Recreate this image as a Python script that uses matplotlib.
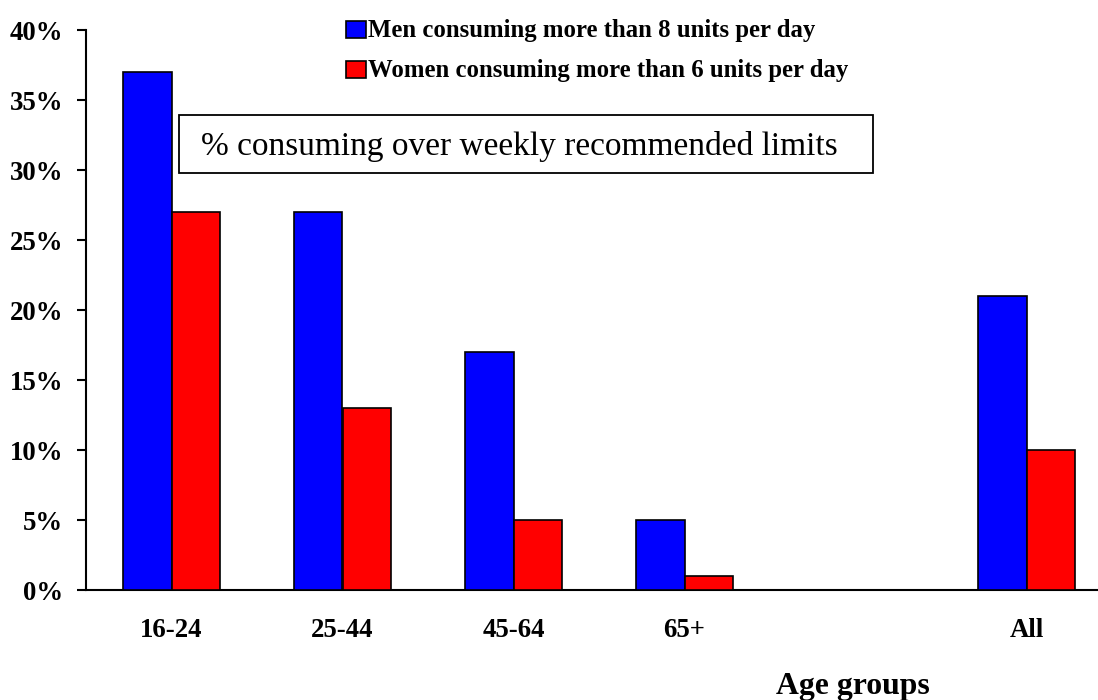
import matplotlib
matplotlib.use("Agg")
import matplotlib.pyplot as plt
from matplotlib.patches import Rectangle
from matplotlib.ticker import FuncFormatter

# Share of adults drinking over the daily guideline, by age band
age_groups = ["16-24", "25-44", "45-64", "65+", "", "All"]
men_pct = [37, 27, 17, 5, None, 21]
women_pct = [27, 13, 5, 1, None, 10]
men_label = "Men consuming more than 8 units per day"
women_label = "Women consuming more than 6 units per day"
y_ticks = [0, 5, 10, 15, 20, 25, 30, 35, 40]

W, H = 1098, 700
fig = plt.figure(figsize=(W / 100, H / 100), dpi=100)
fig.patch.set_facecolor("white")

def px(x0, y0, x1, y1):
    """Pixel box (top-left origin) -> figure-fraction rectangle."""
    return [x0 / W, 1 - y1 / H, (x1 - x0) / W, (y1 - y0) / H]

ax = fig.add_axes(px(86, 30, 86 + 6 * 171, 590))

serif = "Liberation Serif"
bar_w = 0.284
xs = range(len(age_groups))
for i in xs:
    if men_pct[i] is not None:
        ax.bar(i - bar_w / 2, men_pct[i], width=bar_w, color="#0000ff",
               edgecolor="black", linewidth=1.2, zorder=3)
    if women_pct[i] is not None:
        ax.bar(i + bar_w / 2, women_pct[i], width=bar_w, color="#ff0000",
               edgecolor="black", linewidth=1.2, zorder=3)

ax.set_xlim(-0.5, len(age_groups) - 0.5)
ax.set_ylim(0, 40)
ax.set_yticks(y_ticks)
ax.yaxis.set_major_formatter(FuncFormatter(lambda v, p: f"{v:.0f}%"))
ax.set_xticks(list(xs))
ax.set_xticklabels(age_groups)

for s in ("top", "right"):
    ax.spines[s].set_visible(False)
for s in ("left", "bottom"):
    ax.spines[s].set_linewidth(1.5)

ax.tick_params(axis="y", length=6.5, width=1.5, pad=10)
ax.tick_params(axis="x", length=0, pad=20)
for lbl in ax.get_yticklabels() + ax.get_xticklabels():
    lbl.set_fontfamily(serif)
    lbl.set_fontweight("bold")
    lbl.set_fontsize(19.3)

# Legend drawn as swatches with labels
for (y0, col, text) in [(21, "#0000ff", men_label), (61, "#ff0000", women_label)]:
    fig.patches.append(Rectangle((346 / W, 1 - (y0 + 17) / H), 20 / W, 17 / H,
                                 transform=fig.transFigure, facecolor=col,
                                 edgecolor="black", linewidth=1.2))
    fig.text(368 / W, 1 - (y0 + 9) / H, text, family=serif, weight="bold",
             fontsize=17.8, va="center", ha="left")

# Boxed note
box = px(179, 115, 873, 173)
fig.patches.append(Rectangle((box[0], box[1]), box[2], box[3],
                             transform=fig.transFigure, facecolor="white",
                             edgecolor="black", linewidth=1.3, zorder=5))
fig.text(201 / W, 1 - 146 / H, "% consuming over weekly recommended limits",
         family=serif, fontsize=24, va="center", ha="left", zorder=6)

fig.text(853 / W, 1 - 694 / H, "Age groups", family=serif, weight="bold",
         fontsize=22.9, va="baseline", ha="center")

fig.savefig("out.png", dpi=100)
